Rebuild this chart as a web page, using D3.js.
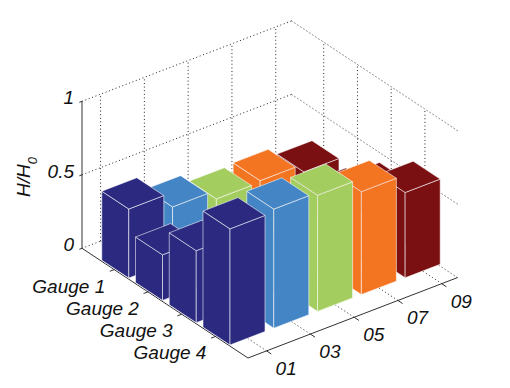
<!DOCTYPE html>
<html lang="en">

<head>
    <meta charset="UTF-8">
    <title>H/H0 por gauge</title>
    <script src="https://cdnjs.cloudflare.com/ajax/libs/d3/7.8.5/d3.min.js"></script>
    <style>
        html, body { margin: 0; padding: 0; background: #fff; }
        svg { display: block; }
        text { font-family: "Liberation Sans", Arial, sans-serif; font-style: italic; fill: #111; font-size: 19px; }
        .grid { fill: none; stroke: #222; stroke-width: 1; stroke-dasharray: 1 2.6; }
        .axis { fill: none; stroke: #333; stroke-width: 1; }
    </style>
</head>

<body>
    <div id="grafica"></div>

    <script>
        // data (one list per gauge, same order as runs)
        // gauges 2 and 3 are mostly hidden: those values are estimates
        const gauges = ['Gauge 1', 'Gauge 2', 'Gauge 3', 'Gauge 4']
        const runs = ['01', '03', '05', '07', '09']
        const gauge1 = [0.47, 0.37, 0.31, 0.32, 0.265]
        const gauge2 = [0.31, 0.2, 0.2, 0.15, 0.23]
        const gauge3 = [0.49, 0.4, 0.38, 0.3, 0.42]
        const gauge4 = [0.79, 0.81, 0.79, 0.7, 0.58]
        const zTicks = [0, 0.5, 1]
        const zLabels = ['0', '0.5', '1']
        const colores = ['#2b2a80', '#4485c5', '#a3ce5f', '#f47521', '#7a1012']

        const ancho = 510, alto = 388
        const uMin = 0.045, uMax = 4.965, vMin = 0.576, vMax = 5.36
        const barra = 0.4 // half width of a bar, in data units

        // oblique projection: gauge index, run index and height each add an offset
        const uX = d3.scaleLinear().domain([uMin, uMax]).range([0, 166])
        const uY = d3.scaleLinear().domain([uMin, uMax]).range([0, 109.7])
        const vX = d3.scaleLinear().domain([vMin, vMax]).range([0, 209.5])
        const vY = d3.scaleLinear().domain([vMin, vMax]).range([0, -80.4])
        const zY = d3.scaleLinear().domain([0, 1]).range([0, -147])

        function punto(u, v, z) {
            return [82 + uX(u) + vX(v), 248.3 + uY(u) + vY(v) + zY(z)]
        }

        const linea = d3.line()

        const svg = d3.select('#grafica')
            .append('svg')
            .attr('width', ancho)
            .attr('height', alto)

        // grid
        const grid = svg.append('g')
        function dotted(a, b) {
            grid.append('path').attr('class', 'grid').attr('d', linea([a, b]))
        }
        zTicks.forEach(z => {
            dotted(punto(uMin, vMin, z), punto(uMin, vMax, z))
            dotted(punto(uMin, vMax, z), punto(uMax, vMax, z))
        })
        runs.forEach((r, i) => {
            dotted(punto(uMin, i + 1, 0), punto(uMin, i + 1, 1))
            dotted(punto(uMin, i + 1, 0), punto(uMax, i + 1, 0))
        })
        gauges.forEach((g, i) => {
            dotted(punto(i + 1, vMax, 0), punto(i + 1, vMax, 1))
            dotted(punto(i + 1, vMin, 0), punto(i + 1, vMax, 0))
        })

        // axes and ticks
        const ejes = svg.append('g')
        function solid(a, b) {
            ejes.append('path').attr('class', 'axis').attr('d', linea([a, b]))
        }
        solid(punto(uMin, vMin, 0), punto(uMin, vMin, 1))
        solid(punto(uMin, vMin, 0), punto(uMax, vMin, 0))
        solid(punto(uMax, vMin, 0), punto(uMax, vMax, 0))
        zTicks.forEach(z => {
            solid(punto(uMin, vMin, z), punto(uMin, vMin - 0.06, z))
        })
        gauges.forEach((g, i) => {
            solid(punto(i + 1, vMin, 0), punto(i + 1, vMin - 0.1, 0))
        })
        runs.forEach((r, i) => {
            solid(punto(uMax, i + 1, 0), punto(uMax + 0.14, i + 1, 0))
        })

        // bars, back row first so the front ones paint over
        const filas = [gauge1, gauge2, gauge3, gauge4]
        const barras = []
        filas.forEach((fila, g) => {
            for (let r = fila.length - 1; r >= 0; r--) {
                barras.push({ u: g + 1, v: r + 1, h: fila[r], color: colores[r] })
            }
        })

        function caras(d) {
            const f = z => punto(d.u + barra, d.v - barra, z) // front corner
            const l = z => punto(d.u - barra, d.v - barra, z) // left corner
            const r = z => punto(d.u + barra, d.v + barra, z) // right corner
            const b = z => punto(d.u - barra, d.v + barra, z) // back corner
            return [
                [l(0), f(0), f(d.h), l(d.h)],
                [f(0), r(0), r(d.h), f(d.h)],
                [l(d.h), f(d.h), r(d.h), b(d.h)]
            ]
        }

        svg.append('g')
            .selectAll('g')
            .data(barras)
            .enter()
            .append('g')
            .selectAll('path')
            .data(d => caras(d).map(c => ({ c: c, color: d.color })))
            .enter()
            .append('path')
            .attr('d', d => linea(d.c) + 'Z')
            .attr('fill', d => d.color)
            .attr('stroke', '#fff')
            .attr('stroke-opacity', 0.8)
            .attr('stroke-width', 0.7)
            .attr('stroke-linejoin', 'round')

        // labels
        svg.append('g')
            .selectAll('text')
            .data(zTicks)
            .enter()
            .append('text')
            .attr('x', d => punto(uMin, vMin, d)[0] - 8)
            .attr('y', d => punto(uMin, vMin, d)[1] + 3)
            .attr('text-anchor', 'end')
            .text((d, i) => zLabels[i])

        svg.append('g')
            .selectAll('text')
            .data(gauges)
            .enter()
            .append('text')
            .attr('x', (d, i) => punto(i + 1, vMin, 0)[0] - 9)
            .attr('y', (d, i) => punto(i + 1, vMin, 0)[1] + 23)
            .attr('text-anchor', 'end')
            .text(d => d)

        svg.append('g')
            .selectAll('text')
            .data(runs)
            .enter()
            .append('text')
            .attr('x', (d, i) => punto(uMax, i + 1, 0)[0] + 9)
            .attr('y', (d, i) => punto(uMax, i + 1, 0)[1] + 24)
            .text(d => d)

        const etiqueta = svg.append('text')
            .attr('transform', 'translate(30,197) rotate(-90)')
        etiqueta.append('tspan').text('H/H')
        etiqueta.append('tspan').attr('dy', 7).style('font-size', '13px').text('0')
    </script>
</body>

</html>
